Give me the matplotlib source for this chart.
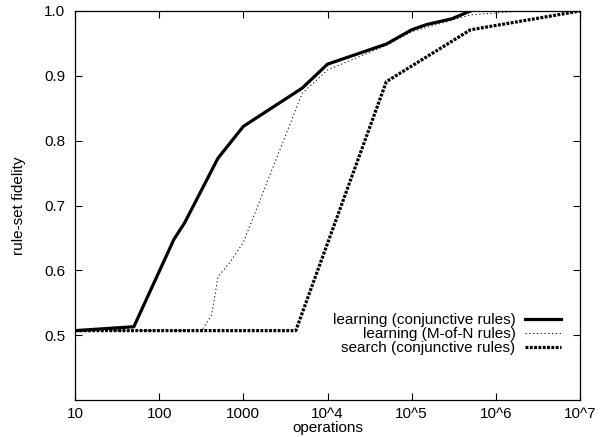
import matplotlib
matplotlib.use("Agg")
import matplotlib.pyplot as plt

plt.rcParams['font.family'] = ['Liberation Sans', 'DejaVu Sans']
plt.rcParams['font.size'] = 11

# learning (conjunctive rules)
conj_ops = [10, 50, 150, 200, 500, 1000, 5000, 1e4, 5e4, 1e5, 1.5e5, 3e5, 5e5]
conj_fid = [0.507, 0.513, 0.648, 0.673, 0.773, 0.822, 0.881, 0.918, 0.949, 0.971, 0.979, 0.988, 1.0]

# learning (M-of-N rules)
mofn_ops = [10, 320, 420, 500, 700, 1000, 5000, 1e4, 5e4, 1e5, 5e5, 1e6, 2e6]
mofn_fid = [0.507, 0.507, 0.531, 0.590, 0.613, 0.643, 0.873, 0.909, 0.947, 0.968, 0.994, 0.997, 1.0]

# search (conjunctive rules)
search_ops = [10, 4200, 5e4, 5e5, 1e7]
search_fid = [0.507, 0.507, 0.891, 0.971, 1.0]

xtick_vals = [10, 100, 1000, 1e4, 1e5, 1e6, 1e7]
xtick_labels = ["10", "100", "1000", "10^4", "10^5", "10^6", "10^7"]
ytick_vals = [0.5, 0.6, 0.7, 0.8, 0.9, 1.0]

fig = plt.figure(figsize=(6.08, 4.37), dpi=100)
ax = fig.add_axes([75/608, 37/437, 505/608, 389/437])

ax.plot(conj_ops, conj_fid, color='black', lw=2.3, solid_joinstyle='miter',
        label='learning (conjunctive rules)')
ax.plot(mofn_ops, mofn_fid, color='black', lw=0.7, linestyle=(0, (1.3, 2.6)),
        label='learning (M-of-N rules)')
ax.plot(search_ops, search_fid, color='black', lw=2.3, linestyle=(0, (0.9, 0.45)),
        dash_capstyle='butt', label='search (conjunctive rules)')

ax.set_xscale('log')
ax.set_xlim(10, 1e7)
ax.set_ylim(0.4, 1.0)
ax.set_xticks(xtick_vals)
ax.set_xticklabels(xtick_labels)
ax.minorticks_off()
ax.set_yticks(ytick_vals)
ax.set_yticklabels([f"{v:.1f}" for v in ytick_vals])
ax.tick_params(direction='in', length=5, width=0.8, top=True, right=True)
ax.tick_params(axis='y', pad=7)
ax.tick_params(axis='x', pad=5)
for s in ax.spines.values():
    s.set_linewidth(0.9)

ax.set_xlabel('operations', labelpad=0)
ax.set_ylabel('rule-set fidelity', labelpad=13)

ax.legend(loc='lower right', bbox_to_anchor=(0.975, 0.1), frameon=False,
          markerfirst=False, handlelength=2.4, labelspacing=0.0, handletextpad=0.6,
          borderaxespad=0)

fig.savefig('out.png', dpi=100)
